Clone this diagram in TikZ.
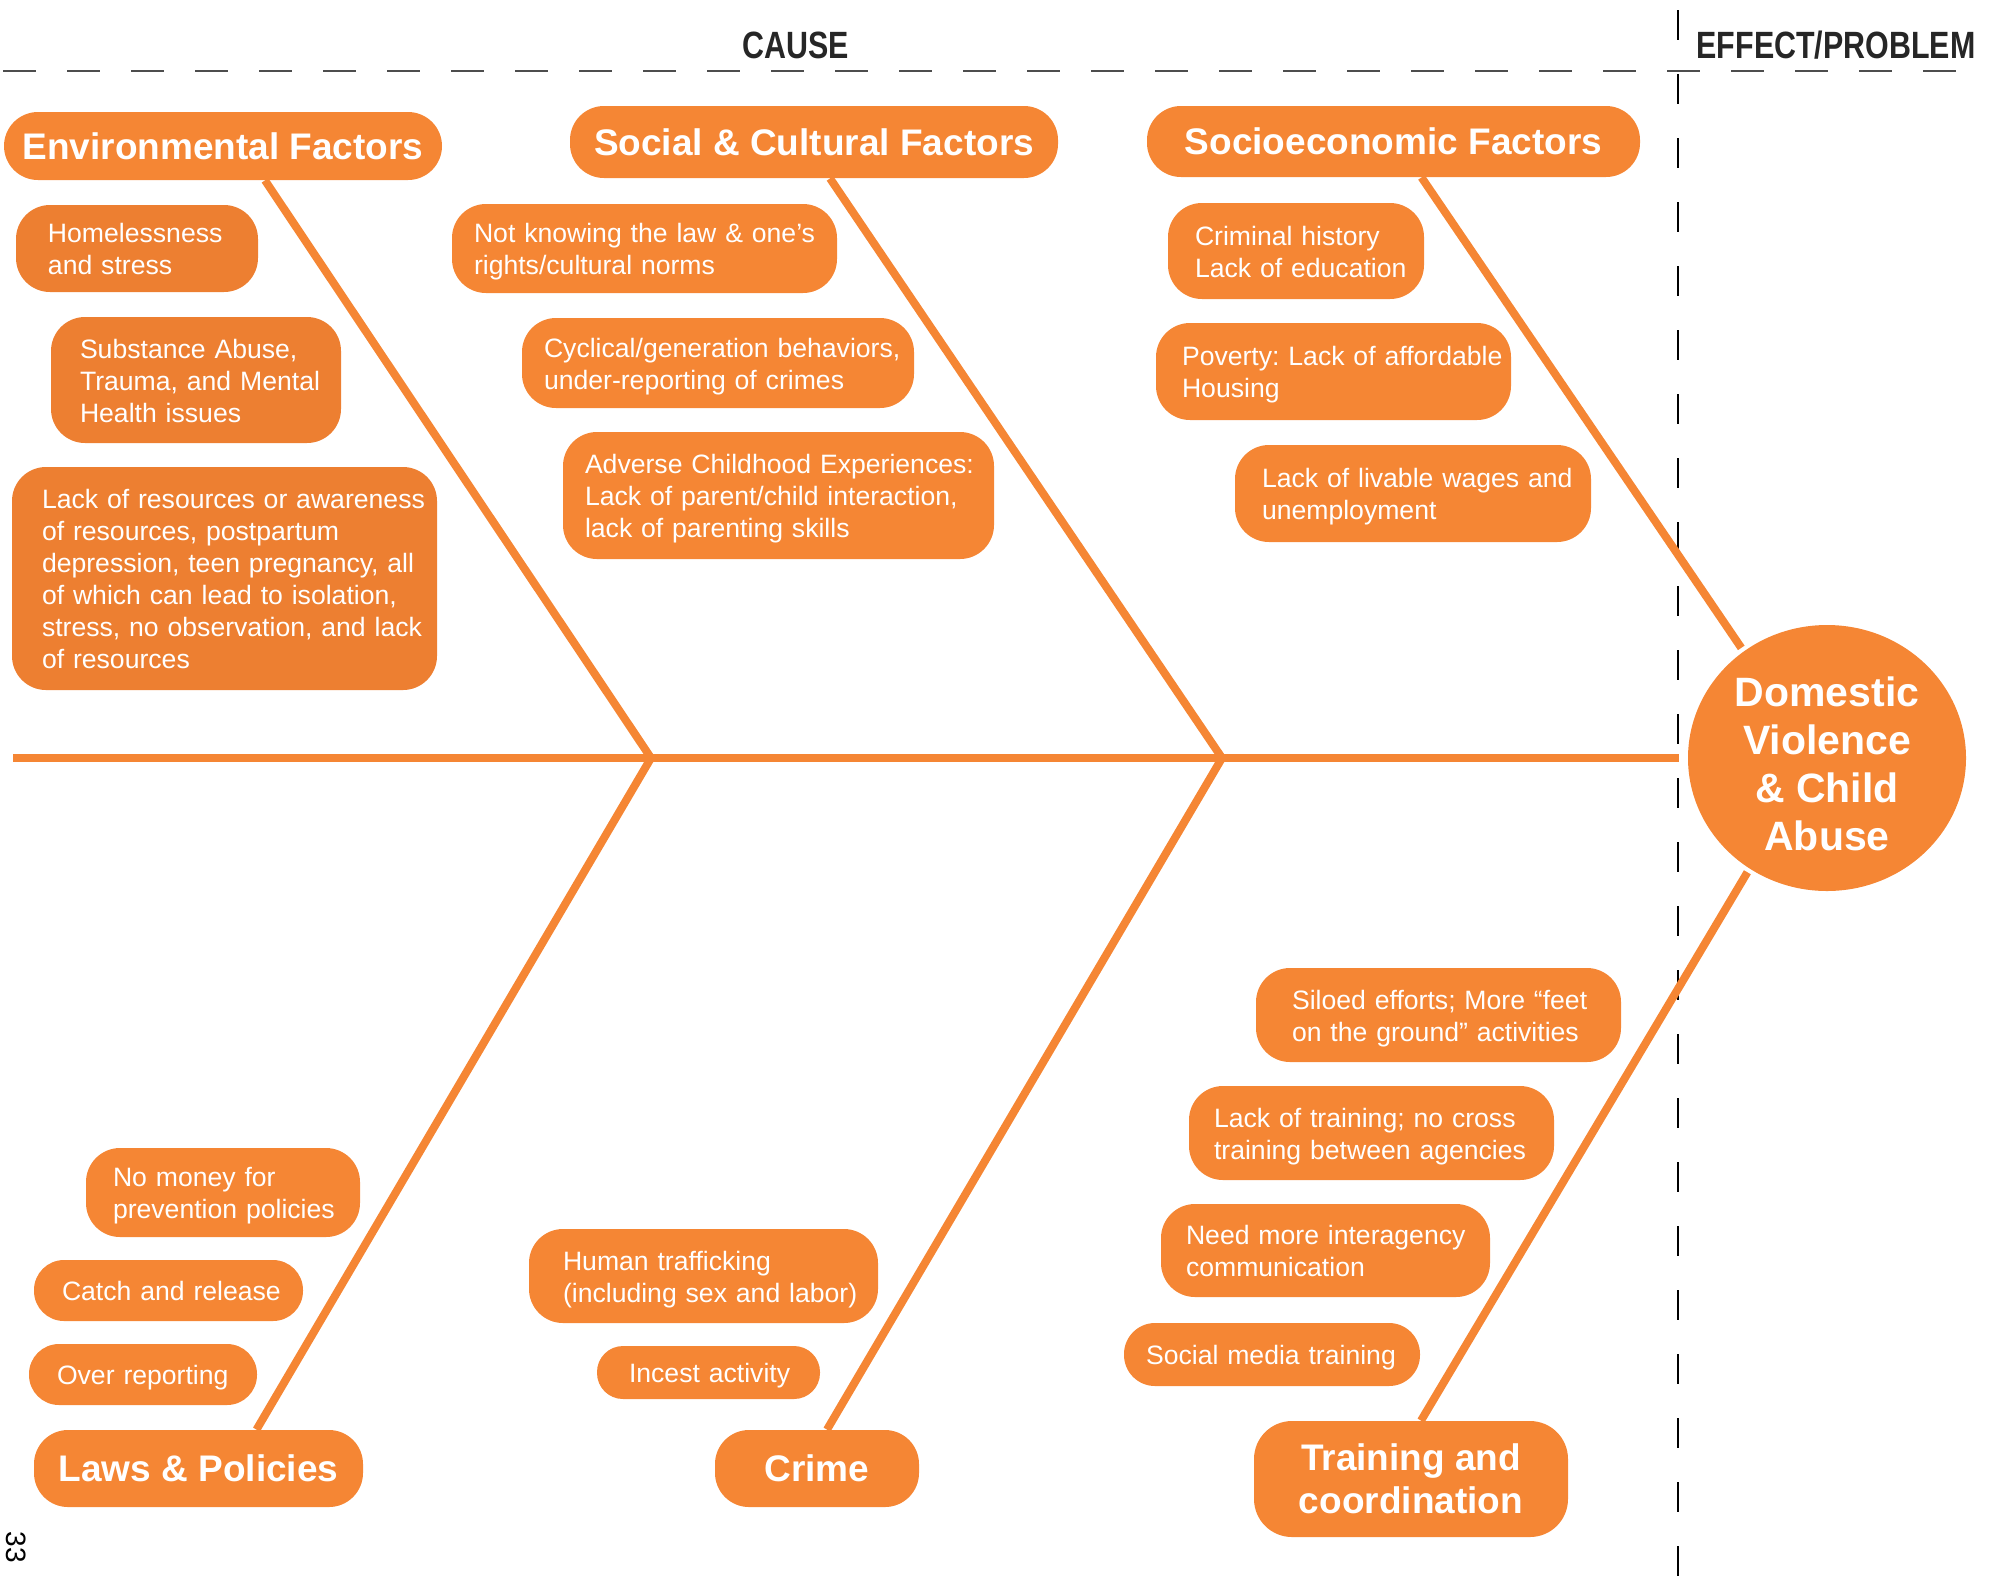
\documentclass[tikz,border=0pt]{standalone}
\usepackage{fontspec}
\setmainfont{Liberation Sans}
\newfontfamily\condfont[FakeStretch=0.8]{Liberation Sans}
\usetikzlibrary{calc}
\usetikzlibrary{shapes.geometric}
\definecolor{fishorange}{HTML}{F58634}
\definecolor{envorange}{HTML}{ED7F31}
\definecolor{guidegray}{HTML}{4D4D4D}
\frenchspacing
% left padding, then the lines of one cause box
\newcommand\causetext[2]{\hspace*{#1}\raisebox{0pt}[\dimexpr\height+4pt\relax][\depth]{%
  \begin{tabular}{@{}l@{}}#2\end{tabular}}}

\begin{document}
\begin{tikzpicture}[x=0.5pt,y=-0.5pt,
  bone/.style={fishorange,line width=4pt},
  head/.style={fill=fishorange,text=white,rounded corners=17pt,inner sep=0pt,align=center,
    font=\bfseries\fontsize{18.5}{21.7}\selectfont},
  cause/.style={fill=fishorange,text=white,rounded corners=17pt,inner xsep=0pt,inner ysep=0pt,
    align=left,font=\fontsize{13.3}{16}\selectfont},
  side/.style={font=\condfont\bfseries\fontsize{19}{22}\selectfont,text=black!85,anchor=base,inner sep=0pt}]
\useasboundingbox (0,0) rectangle (2002,1581);
% guide lines
\draw[guidegray,line width=1.3pt,dash pattern=on 16.5pt off 15.5pt] (3,71) -- (1980,71);
\draw[black,line width=0.7pt,dash pattern=on 15pt off 17pt] (1678,10) -- (1678,1581);
\node[side] (cause) at (796,58) {CAUSE};
\node[side] (effect) at (1836,58) {EFFECT/PROBLEM};
% head of the fish
\node[ellipse,fill=fishorange,text=white,minimum width=139pt,minimum height=133pt,inner sep=0pt,
  align=center,font=\bfseries\fontsize{20.5}{24}\selectfont] (dv) at (1827,758)
  {\rule{0pt}{21pt}Domestic\\Violence\\\& Child\\Abuse};
% category heads
\node[head,minimum width=219pt,minimum height=34pt] (env) at (223,146) {Environmental Factors};
\node[head,minimum width=244pt,minimum height=36pt] (soc) at (814,142) {Social \& Cultural Factors};
\node[head,minimum width=246.5pt,minimum height=35.5pt] (socio) at (1393.5,141.5) {Socioeconomic Factors};
\node[head,minimum width=164.5pt,minimum height=38.5pt] (laws) at (198.5,1468.5) {Laws \& Policies};
\node[head,minimum width=102pt,minimum height=38.5pt] (crime) at (817,1468.5) {Crime};
\node[head,minimum width=157pt,minimum height=58pt,rounded corners=19pt] (trainco) at (1411,1479) {Training and\\coordination};
% spine and bones
\coordinate (tail) at (13,758);
\coordinate (j1) at (651,758);
\coordinate (j2) at (1222,758);
\draw[bone,shorten >=4.5pt] (tail) -- (dv.west);
\draw[bone] ($(env.south)+(42,0)$) -- (j1) -- ($(laws.north)+(58,0)$);
\draw[bone] ($(soc.south)+(16,0)$) -- (j2) -- ($(crime.north)+(10,0)$);
\draw[bone,shorten >=2pt] ($(socio.south)+(28,0)$) -- (dv.128);
\draw[bone,shorten <=2pt] (dv.235) -- ($(trainco.north)+(10,0)$);
% environmental
\node[cause,fill=envorange,text width=121pt,minimum height=43.5pt] (home) at (137,248.5)
  {\causetext{16pt}{Homelessness\\and stress}};
\node[cause,fill=envorange,text width=145pt,minimum height=63pt] (subst) at (196,380)
  {\causetext{14.5pt}{Substance Abuse,\\Trauma, and Mental\\Health issues}};
\node[cause,fill=envorange,text width=212.5pt,minimum height=111.5pt] (lackres) at (224.5,578.5)
  {\causetext{15pt}{Lack of resources or awareness\\of resources, postpartum\\depression, teen pregnancy, all\\of which can lead to isolation,\\stress, no observation, and lack\\of resources}};
% social and cultural
\node[cause,text width=192.5pt,minimum height=44.5pt] (law) at (644.5,248.5)
  {\causetext{11pt}{Not knowing the law \& one’s\\rights/cultural norms}};
\node[cause,text width=196pt,minimum height=45pt] (cyc) at (718,363)
  {\causetext{11pt}{Cyclical/generation behaviors,\\under-reporting of crimes}};
\node[cause,text width=215.5pt,minimum height=63.5pt] (ace) at (778.5,495.5)
  {\causetext{11pt}{Adverse Childhood Experiences:\\Lack of parent/child interaction,\\lack of parenting skills}};
% socioeconomic
\node[cause,text width=128pt,minimum height=48pt] (crim) at (1296,251)
  {\causetext{13.5pt}{Criminal history\\Lack of education}};
\node[cause,text width=177.5pt,minimum height=48.5pt] (pov) at (1333.5,371.5)
  {\causetext{13pt}{Poverty: Lack of affordable\\Housing}};
\node[cause,text width=178pt,minimum height=48.5pt] (wage) at (1413,493.5)
  {\causetext{13.5pt}{Lack of livable wages and\\unemployment}};
% laws and policies
\node[cause,text width=137pt,minimum height=44.5pt] (money) at (223,1192.5)
  {\causetext{13.5pt}{No money for\\prevention policies}};
\node[cause,text width=134.5pt,minimum height=30.5pt,rounded corners=15pt] (catch) at (168.5,1290.5)
  {\causetext{14pt}{Catch and release}};
\node[cause,text width=114pt,minimum height=30.5pt,rounded corners=15pt] (over) at (143,1374.5)
  {\causetext{14pt}{Over reporting}};
% crime
\node[cause,text width=174.5pt,minimum height=47pt] (traff) at (703.5,1276)
  {\causetext{17pt}{Human trafficking\\(including sex and labor)}};
\node[cause,text width=111.5pt,minimum height=26.5pt,rounded corners=13pt] (incest) at (708.5,1372.5)
  {\causetext{16pt}{Incest activity}};
% training and coordination
\node[cause,text width=182.5pt,minimum height=47pt] (silo) at (1438.5,1015)
  {\causetext{18pt}{Siloed efforts; More “feet\\on the ground” activities}};
\node[cause,text width=182.5pt,minimum height=47pt] (train) at (1371.5,1133)
  {\causetext{12.5pt}{Lack of training; no cross\\training between agencies}};
\node[cause,text width=164.5pt,minimum height=46.5pt] (inter) at (1325.5,1250.5)
  {\causetext{12.5pt}{Need more interagency\\communication}};
\node[cause,text width=148pt,minimum height=31.5pt,rounded corners=15.5pt] (media) at (1272,1354.5)
  {\causetext{11pt}{Social media training}};
% page number
\node[rotate=-90,font=\fontsize{14}{16}\selectfont,inner sep=0pt] (pnum) at (16,1547) {33};
\end{tikzpicture}
\end{document}
